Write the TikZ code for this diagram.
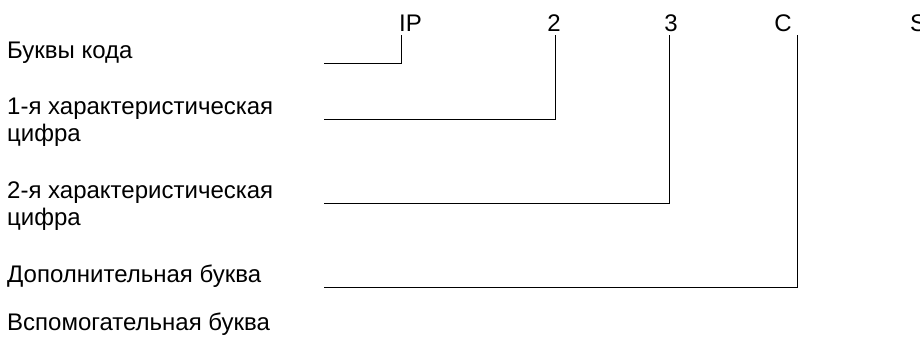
\documentclass[tikz,border=0pt]{standalone}
\usepackage{fontspec}
\setmainfont{Liberation Sans}
\begin{document}
\begin{tikzpicture}[x=1pt,y=-1pt,
  lbl/.style={anchor=base west, inner sep=0pt, font=\fontsize{24}{28}\selectfont},
  code/.style={anchor=base, inner sep=0pt, font=\fontsize{24}{28}\selectfont},
  conn/.style={line width=1pt, line cap=rect}]
\useasboundingbox (0,0) rectangle (920,342);
\clip (0,0) rectangle (920,342);
% left labels
\node[lbl] (lbuk) at (7,59) {Буквы кода};
\node[lbl] (lch1a) at (7,115) {1-я характеристическая};
\node[lbl] (lch1b) at (7,142) {цифра};
\node[lbl] (lch2a) at (7,198) {2-я характеристическая};
\node[lbl] (lch2b) at (7,225) {цифра};
\node[lbl] (ldop) at (7,282) {Дополнительная буква};
\node[lbl] (lvsp) at (7,330) {Вспомогательная буква};
% code letters
\node[code] (cip) at (410.5,32) {IP};
\node[code] (c2) at (554,32) {2};
\node[code] (c3) at (671,32) {3};
\node[code] (cc) at (783,32) {C};
\node[lbl] (cs) at (910,32) {S};
% connector ends
\coordinate (s1) at (324,64);  \coordinate (t1) at (401.5,36);
\coordinate (s2) at (324,120); \coordinate (t2) at (555.5,36);
\coordinate (s3) at (324,203); \coordinate (t3) at (669.5,36);
\coordinate (s4) at (324,287); \coordinate (t4) at (797.5,36);
\draw[conn] (s1) -| (t1);
\draw[conn] (s2) -| (t2);
\draw[conn] (s3) -| (t3);
\draw[conn] (s4) -| (t4);
\end{tikzpicture}
\end{document}
